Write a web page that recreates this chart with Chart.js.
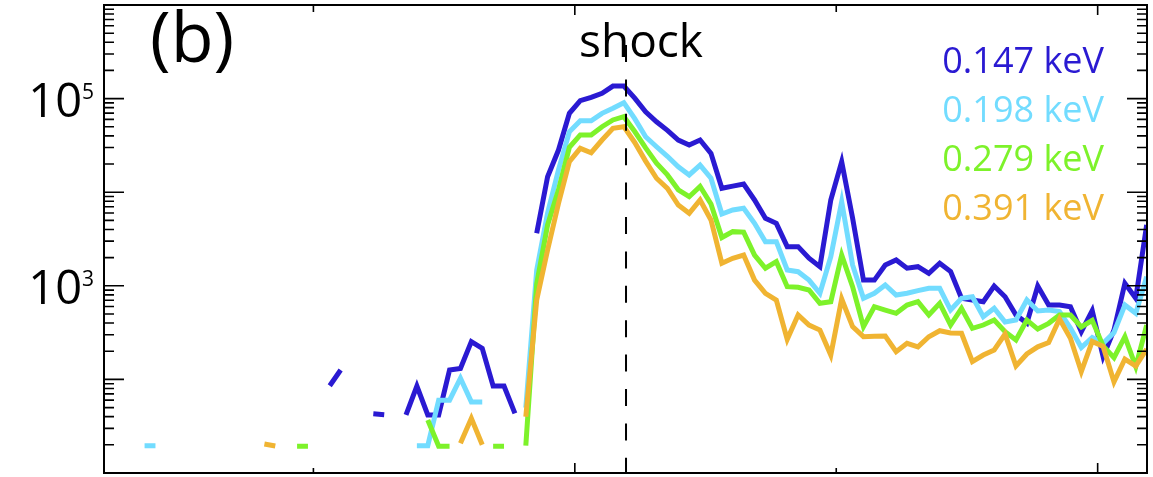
<!DOCTYPE html>
<html>
<head>
<meta charset="utf-8">
<script src="https://cdn.jsdelivr.net/npm/chart.js@4.4.1/dist/chart.umd.min.js"></script>
<style>
  html, body { margin: 0; padding: 0; background: #fff; }
  #wrap { width: 1153px; height: 477px; }
</style>
</head>
<body>
<div id="wrap"><canvas id="myChart" width="1153" height="477"></canvas></div>
<script>
// energy channels and their colours
const energies = ['0.147 keV', '0.198 keV', '0.279 keV', '0.391 keV'];
const lineColors = ['#2a1ad2', '#72dcff', '#7df22a', '#f0b432'];

// flux per sample (index 0..96), null = no data / below range
const flux147 = [
  null, null, null, null, null, null, null, null, null, null,
  null, null, null, null, null, null, null, null, null, null,
  null, 85.6, 126, null, null, 43, 42, null, 41.7, 85,
  41.7, 41.7, 126, 131, 253, 215, 85, 85, 43.4, null,
  3640, 14600, 28200, 69600, 95000, 103000, 114000, 136000, 136000, 101000,
  72400, 56600, 45800, 36100, 31900, 36100, 26000, 11000, 11600, 12200,
  8260, 5260, 4650, 2620, 2620, 1970, 1600, 8260, 21200, 5300,
  1150, 1150, 1670, 1890, 1540, 1600, 1360, 1740, 1420, 736,
  705, 676, 995, 765, 488, 400, 995, 623, 623, 598,
  324, 542, 175, 337, 1064, 736, 4470
];
const flux198 = [
  null, null, null, null, 19.6, 19.6, null, null, null, null,
  null, null, null, null, null, null, null, null, null, null,
  null, null, null, null, null, null, null, null, null, 19.6,
  19.6, 60, 60, 103, 57.5, 57.5, null, null, null, 50,
  1475, 6000, 17300, 44300, 58000, 58000, 69600, 78800, 90400, 61000,
  39100, 30600, 24200, 18700, 15300, 19500, 14100, 5850, 6450, 6730,
  4650, 2960, 2960, 1475, 1415, 1150, 832, 2050, 7920, 1670,
  736, 832, 1020, 798, 832, 887, 940, 940, 551, 736,
  765, 468, 575, 410, 431, 705, 538, 551, 530, 354,
  219, 280, 243, 317, 623, 508, 1250
];
const flux279 = [
  null, null, null, null, null, null, null, null, null, null,
  null, null, null, null, null, null, null, null, 19.3, 19.3,
  null, null, null, null, null, null, null, null, null, null,
  36.8, 19.3, 19.3, null, null, null, 19.3, 19.3, null, 19.6,
  1050, 4470, 10600, 30200, 40900, 40900, 50100, 59100, 64100, 44500,
  29700, 20400, 15300, 10600, 8950, 11500, 7480, 3280, 3790, 3750,
  2130, 1540, 1810, 978, 965, 902, 650, 676, 2130, 978,
  366, 598, 551, 508, 623, 676, 488, 650, 381, 575,
  351, 381, 431, 324, 264, 431, 345, 397, 488, 488,
  363, 428, 228, 171, 286, 137, 381
];
const flux391 = [
  null, null, null, null, null, null, null, null, null, null,
  null, null, null, null, null, 20.4, 19.4, null, null, null,
  null, null, null, null, null, null, null, null, null, null,
  null, null, null, 20.8, 38.4, 20, null, null, null, 40,
  705, 2410, 7600, 21200, 29400, 26400, 36100, 48100, 50100, 34000,
  21500, 14100, 11000, 7300, 5950, 8260, 5050, 1740, 1970, 2130,
  1150, 832, 705, 268, 488, 381, 337, 182, 723, 366,
  286, 289, 291, 198, 243, 223, 286, 331, 313, 311,
  155, 182, 206, 305, 139, 187, 223, 247, 442, 275,
  121, 254, 225, 94, 165, 139, 211
];

// axis ticks (sample index) and labels
const xTickValues = [19.5, 43.5, 67.5, 91.5];
const xTickMajor = [43.5, 91.5];
const yLabelValues = [1e3, 1e5];
const yLabelExps = ['3', '5'];
const shockAt = 48.2;

const series = [flux147, flux198, flux279, flux391];

// dataset 0 is drawn on top in chart.js, so put the highest energy first
const datasets = [3, 2, 1, 0].map(k => ({
  label: energies[k],
  data: series[k].map((v, i) => ({ x: i, y: v })),
  borderColor: lineColors[k],
  borderWidth: 5,
  pointRadius: 0,
  tension: 0,
  borderJoinStyle: 'miter',
  spanGaps: false
}));

const FONT = '"Open Sans", "Noto Sans", sans-serif';

const decorations = {
  id: 'decorations',
  afterDatasetsDraw(chart) {
    const ctx = chart.ctx;
    const a = chart.chartArea;
    const xs = chart.scales.x, ys = chart.scales.y;
    ctx.save();

    // shock line
    const sx = xs.getPixelForValue(shockAt);
    ctx.strokeStyle = '#000';
    ctx.lineWidth = 2;
    ctx.setLineDash([17, 17.4]);
    ctx.beginPath();
    ctx.moveTo(sx, 45);
    ctx.lineTo(sx, a.bottom);
    ctx.stroke();
    ctx.setLineDash([]);

    // frame
    ctx.lineWidth = 2;
    ctx.strokeRect(a.left, a.top, a.right - a.left, a.bottom - a.top);

    // y ticks, inward on both sides
    ctx.lineWidth = 1.6;
    ctx.beginPath();
    for (let d = 1; d <= 6; d++) {
      for (let k = 1; k <= 9; k++) {
        const v = k * Math.pow(10, d);
        if (v > 1e6) continue;
        const py = ys.getPixelForValue(v);
        const len = k === 1 ? 20 : 10;
        ctx.moveTo(a.left, py); ctx.lineTo(a.left + len, py);
        ctx.moveTo(a.right, py); ctx.lineTo(a.right - len, py);
      }
    }
    // x ticks
    xTickValues.forEach(t => {
      const px = xs.getPixelForValue(t);
      const major = xTickMajor.includes(t);
      ctx.moveTo(px, a.bottom); ctx.lineTo(px, a.bottom - (major ? 10 : 5));
      ctx.moveTo(px, a.top); ctx.lineTo(px, a.top + (major ? 10 : 7));
    });
    ctx.stroke();

    // y labels with superscript
    ctx.fillStyle = '#000';
    yLabelValues.forEach((v, i) => {
      const py = ys.getPixelForValue(v);
      ctx.font = '47px ' + FONT;
      ctx.textAlign = 'right';
      ctx.textBaseline = 'alphabetic';
      ctx.fillText('10', 82, py + 18);
      ctx.font = '21px ' + FONT;
      ctx.textAlign = 'left';
      ctx.fillText(yLabelExps[i], 82, py);
    });

    // panel letter and shock label
    ctx.font = '70px ' + FONT;
    ctx.textAlign = 'left';
    ctx.fillText('(b)', 150, 62);
    ctx.font = '46px ' + FONT;
    ctx.textAlign = 'center';
    ctx.fillText('shock', 641, 57);

    // energy labels
    ctx.font = '36px ' + FONT;
    ctx.textAlign = 'right';
    energies.forEach((e, k) => {
      ctx.fillStyle = lineColors[k];
      ctx.fillText(e, 1104, 73 + k * 49);
    });
    ctx.restore();
  }
};

new Chart(document.getElementById('myChart').getContext('2d'), {
  type: 'line',
  data: { datasets: datasets },
  options: {
    responsive: false,
    animation: false,
    layout: { padding: { left: 104, top: 5, right: 6, bottom: 4 } },
    plugins: { legend: { display: false }, tooltip: { enabled: false } },
    scales: {
      x: { type: 'linear', min: 0.275, max: 96.03, display: false },
      y: { type: 'logarithmic', min: 10, max: 1e6, display: false }
    }
  },
  plugins: [decorations]
});
</script>
</body>
</html>
